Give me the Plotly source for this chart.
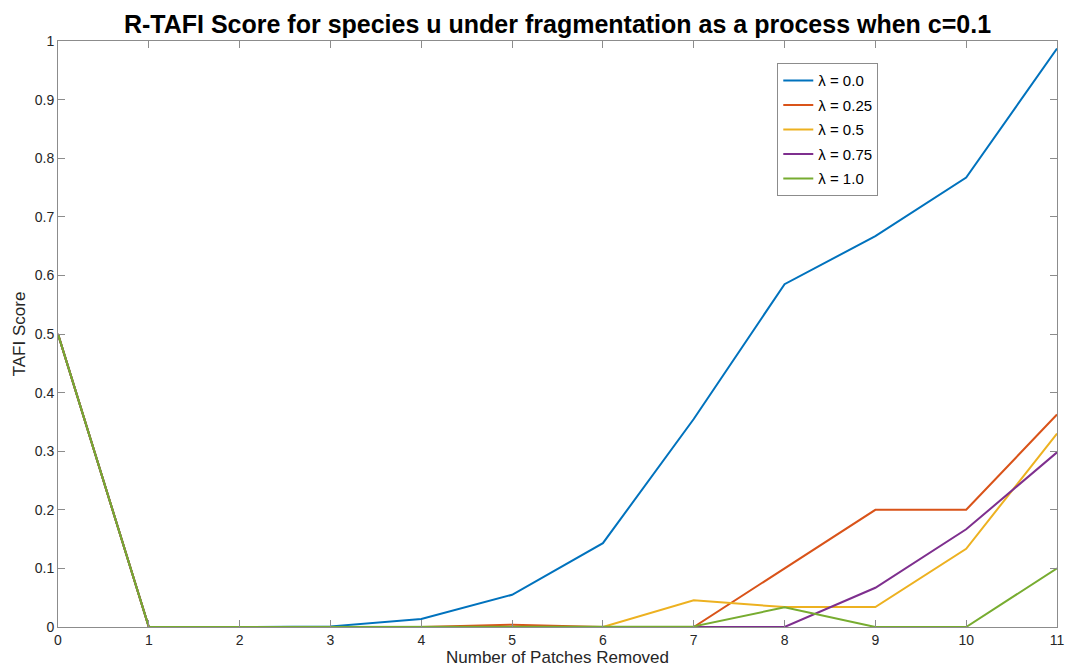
import plotly.graph_objects as go

# Number of patches removed
patches = list(range(12))

# TAFI scores per lambda value
score_l00 = [0.5, 0, 0, 0.001, 0.0136, 0.055, 0.143, 0.355, 0.585, 0.667, 0.767, 0.987]
score_l025 = [0.5, 0, 0, 0, 0, 0.004, 0, 0, 0.1, 0.2, 0.2, 0.3626]
score_l05 = [0.5, 0, 0, 0, 0, 0, 0, 0.0455, 0.034, 0.034, 0.1335, 0.33]
score_l075 = [0.5, 0, 0, 0, 0, 0, 0, 0, 0, 0.067, 0.1667, 0.298]
score_l10 = [0.5, 0, 0, 0, 0, 0, 0, 0.001, 0.0335, 0, 0, 0.1]

series_names = ["λ = 0.0", "λ = 0.25", "λ = 0.5", "λ = 0.75", "λ = 1.0"]
series_values = [score_l00, score_l025, score_l05, score_l075, score_l10]
colors = ["#0072BD", "#D95319", "#EDB120", "#7E2F8E", "#77AC30"]

x_ticks = list(range(12))
y_ticks = [round(0.1 * i, 1) for i in range(11)]
y_tick_text = ["0", "0.1", "0.2", "0.3", "0.4", "0.5", "0.6", "0.7", "0.8", "0.9", "1"]

fig = go.Figure()
for i, (name, vals, col) in enumerate(zip(series_names, series_values, colors)):
    fig.add_trace(go.Scatter(x=patches, y=vals, mode="lines", name=name,
                             legendgroup=f"g{i}",
                             line=dict(color=col, width=2)))

axis_common = dict(showgrid=False, zeroline=False, showline=True, linecolor="#8c8c8c",
                   linewidth=1, mirror="ticks", ticks="inside", ticklen=7,
                   tickcolor="#8c8c8c", automargin=False,
                   tickfont=dict(size=14, color="#262626"))

fig.update_layout(
    width=1065, height=671,
    margin=dict(l=58, r=8, t=41, b=44),
    paper_bgcolor="white", plot_bgcolor="white",
    font=dict(family="Liberation Sans, Arial, sans-serif", color="#262626"),
    title=dict(text="<b>R-TAFI Score for species u under fragmentation as a process when c=0.1</b>",
               x=0.5, xref="paper", xanchor="center", y=0.9635, yanchor="middle",
               font=dict(size=25, color="black")),
    xaxis=dict(range=[0, 11], tickvals=x_ticks, **axis_common,
               title=dict(text="Number of Patches Removed", font=dict(size=17), standoff=2)),
    yaxis=dict(range=[0, 1], tickvals=y_ticks, ticktext=y_tick_text, **axis_common,
               title=dict(text="TAFI Score", font=dict(size=17), standoff=4)),
    legend=dict(x=0.72, y=0.962, xanchor="left", yanchor="top",
                bordercolor="#8c8c8c", borderwidth=1, bgcolor="white",
                font=dict(size=15, color="black"), itemwidth=30,
                traceorder="grouped", tracegroupgap=2),
    showlegend=True,
)

fig.write_html("out.html")
